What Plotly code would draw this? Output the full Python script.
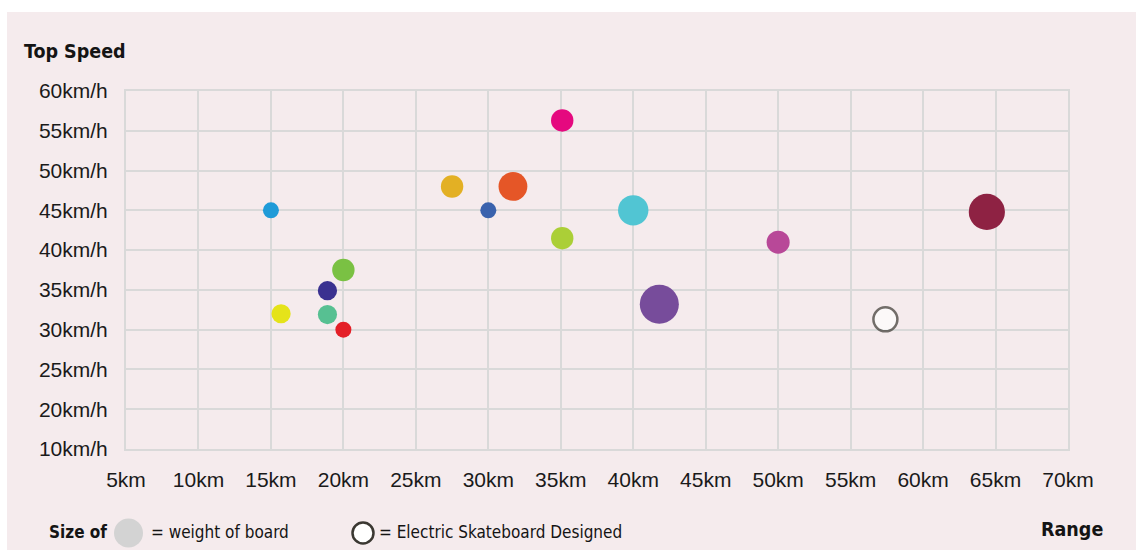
import plotly.graph_objects as go

# Electric skateboards: range (km), top speed (km/h), board weight (kg)
board_range = [15, 35.1, 27.5, 31.7, 30, 40, 35.1, 20, 18.9, 15.7, 18.9, 20, 50, 64.4, 41.8]
top_speed = [45, 56.3, 48, 48, 45, 45, 41.5, 37.5, 34.9, 32, 31.9, 30, 41, 44.8, 33.2]
weight_kg = [5, 7, 7, 9, 5, 9.5, 7, 7, 6, 6, 6, 5, 7.2, 11.3, 12.2]
board_colors = ["#1f9bd8", "#e5097f", "#e3b024", "#e55627", "#3a62ad", "#51c5d3",
                "#abcf37", "#7ac143", "#3a3190", "#e5e31a", "#57c092", "#e41f27",
                "#b84898", "#8e2243", "#774c9b"]

# The board that was designed
designed_range = [57.4]
designed_speed = [31.3]
designed_weight = [7.5]

x_ticks = list(range(5, 75, 5))
x_tick_labels = [f"{v}km" for v in x_ticks]
# Speed axis is broken below 20 km/h: its lowest step reads 10 km/h
y_ticks = [15, 20, 25, 30, 35, 40, 45, 50, 55, 60]
y_tick_labels = ["10km/h", "20km/h", "25km/h", "30km/h", "35km/h",
                 "40km/h", "45km/h", "50km/h", "55km/h", "60km/h"]

PX_PER_KG = 3.2
W, H = 1136, 550
L, R, T, B = 126, 68, 91, 101
PW, PH = W - L - R, H - T - B

TICK_FONT = "Liberation Sans, Arial, sans-serif"
NARROW = "DejaVu Sans Condensed, Liberation Sans Narrow, Arial Narrow, sans-serif"
INK = "#141414"
GRID = "#d9d9d9"


def px(x):
    return (x - L) / PW


def py(y):
    return (H - B - y) / PH


fig = go.Figure()
fig.add_trace(go.Scatter(
    x=board_range, y=top_speed, mode="markers",
    marker=dict(size=[w * PX_PER_KG for w in weight_kg], sizemode="diameter",
                color=board_colors, opacity=1, line=dict(width=0)),
    cliponaxis=False, hoverinfo="x+y", showlegend=False,
))
fig.add_trace(go.Scatter(
    x=designed_range, y=designed_speed, mode="markers",
    marker=dict(size=[w * PX_PER_KG for w in designed_weight], sizemode="diameter",
                color="#ffffff", line=dict(width=2.5, color="#3b3832")),
    cliponaxis=False, hoverinfo="x+y", showlegend=False,
))

shapes = [
    # panel background
    dict(type="rect", xref="paper", yref="paper", layer="below",
         x0=px(7), x1=px(W + 2), y0=py(H + 2), y1=py(12),
         fillcolor="#f5ebed", line=dict(width=0)),
    # legend glyph: weight
    dict(type="circle", xref="paper", yref="paper",
         x0=px(128.5 - 14.5), x1=px(128.5 + 14.5), y0=py(533 + 14.5), y1=py(533 - 14.5),
         fillcolor="#d3d3d3", line=dict(width=0)),
    # legend glyph: designed board
    dict(type="circle", xref="paper", yref="paper",
         x0=px(363 - 10.5), x1=px(363 + 10.5), y0=py(533 + 10.5), y1=py(533 - 10.5),
         fillcolor="#ffffff", line=dict(width=2.5, color="#3b3832")),
]

annotations = [
    dict(text="<b>Top Speed</b>", x=px(22), y=py(52), xanchor="left", yanchor="middle",
         font=dict(family=NARROW, size=19.5, color=INK)),
    dict(text="<b>Range</b>", x=px(1105), y=py(529), xanchor="right", yanchor="middle",
         font=dict(family=NARROW, size=19.5, color=INK)),
    dict(text="<b>Size of</b>", x=px(109), y=py(532), xanchor="right", yanchor="middle",
         font=dict(family=NARROW, size=17, color=INK)),
    dict(text="= weight of board", x=px(149), y=py(532), xanchor="left", yanchor="middle",
         font=dict(family=NARROW, size=17, color=INK)),
    dict(text="= Electric Skateboard Designed", x=px(377), y=py(532), xanchor="left",
         yanchor="middle", font=dict(family=NARROW, size=17, color=INK)),
]
for a in annotations:
    a.update(xref="paper", yref="paper", showarrow=False)

fig.update_layout(
    width=W, height=H,
    margin=dict(l=L, r=R, t=T, b=B, pad=0),
    paper_bgcolor="#ffffff", plot_bgcolor="rgba(0,0,0,0)",
    shapes=shapes, annotations=annotations,
    xaxis=dict(range=[5, 70], tickvals=x_ticks, ticktext=x_tick_labels,
               showgrid=True, gridcolor=GRID, gridwidth=2, zeroline=False,
               showline=True, linecolor=GRID, linewidth=2, mirror=True,
               ticks="", ticklabelstandoff=11,
               tickfont=dict(family=TICK_FONT, size=21, color="#1a1a1a")),
    yaxis=dict(range=[15, 60], tickvals=y_ticks, ticktext=y_tick_labels,
               showgrid=True, gridcolor=GRID, gridwidth=2, zeroline=False,
               showline=True, linecolor=GRID, linewidth=2, mirror=True,
               ticks="", ticklabelstandoff=12,
               tickfont=dict(family=TICK_FONT, size=21, color="#1a1a1a")),
)

fig.write_html("out.html")
